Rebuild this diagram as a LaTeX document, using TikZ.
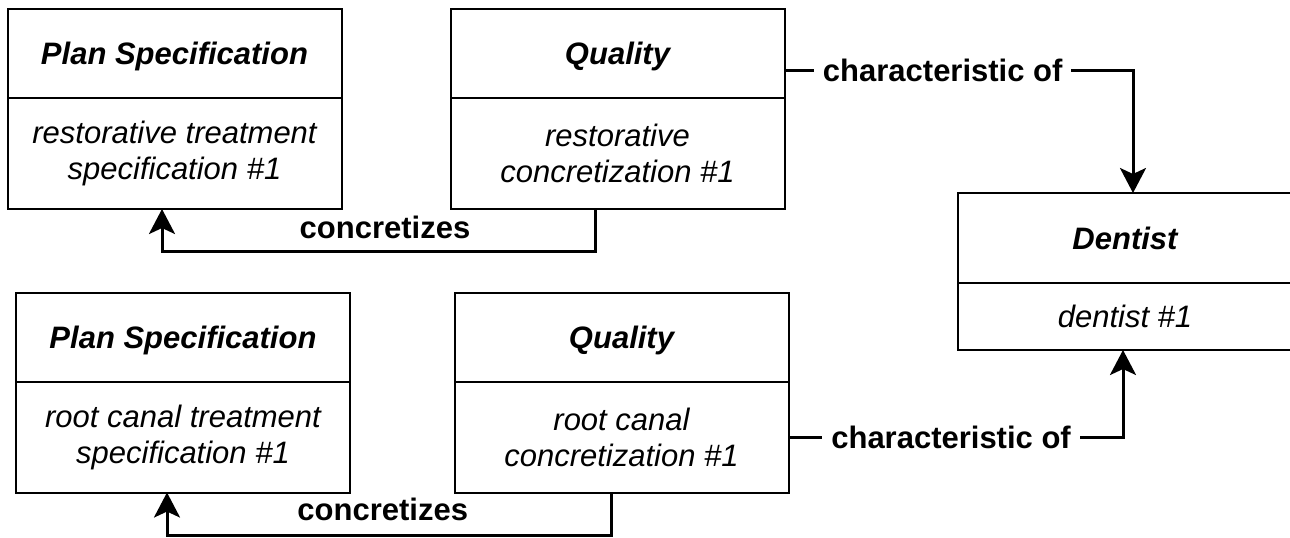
\documentclass[tikz,border=0pt]{standalone}
\usepackage{fontspec}
\setmainfont{Liberation Sans}
\usetikzlibrary{positioning, arrows.meta}

\begin{document}
\begin{tikzpicture}[x=0.5pt,y=-0.5pt,line width=1pt,node distance=0pt,]
	\tikzstyle{head}=[draw,rectangle,outer sep=0pt,inner sep=0pt,text depth=0pt,minimum width=167pt,minimum height=44.5pt,font=\fontsize{15.5}{18}\selectfont\bfseries\itshape]
	\tikzstyle{body}=[draw,rectangle,outer sep=0pt,inner sep=0pt,minimum width=167pt,minimum height=55.5pt,align=center,font=\fontsize{15.5}{18}\selectfont\itshape]
	\tikzstyle{rel}=[line width=1.5pt,-{Stealth[length=12.5pt,width=13pt,inset=3pt]}]
	\tikzstyle{lbl}=[font=\fontsize{15.5}{18}\selectfont\bfseries,inner sep=0pt]
	
	\useasboundingbox (0,0) rectangle (1290,537);
	
	\node[head] (PS1) at (174.5,53.5) {Plan Specification};
	\node[body] (PS1b) [below=of PS1] {restorative treatment\\specification \#1};
	\node[head] (Q1) at (617.5,53.5) {Quality};
	\node[body] (Q1b) [below=of Q1] {restorative\\concretization \#1};
	\node[head] (PS2) at (183,337) {Plan Specification};
	\node[body] (PS2b) [below=of PS2] {root canal treatment\\specification \#1};
	\node[head] (Q2) at (621.5,337) {Quality};
	\node[body] (Q2b) [below=of Q2] {root canal\\concretization \#1};
	\node[head, minimum height=45pt] (DEN) at (1125,238) {Dentist};
	\node[body, minimum height=33.5pt] (DENb) [below=of DEN] {dentist \#1};
	
	\draw[rel] ([xshift=-11.25pt]Q1b.south) -- ++(0,-21pt)
		-| node[lbl,pos=0.2425,above=5.5pt] {concretizes} ([xshift=-6.25pt]PS1b.south);
	\draw[rel] ([xshift=-5.25pt]Q2b.south) -- ++(0,-21.5pt)
		-| node[lbl,pos=0.257,above=6.5pt] {concretizes} ([xshift=-8pt]PS2b.south);
	\draw[rel] ([yshift=-8.25pt]Q1.east)
		-| node[lbl,fill=white,inner xsep=4.5pt,pos=0.227] {characteristic of} ([xshift=4pt]DEN.north);
	\draw[rel] (Q2b.east)
		-| node[lbl,fill=white,inner xsep=4.5pt,pos=0.243] {characteristic of} ([xshift=-1pt]DENb.south);
\end{tikzpicture}
\end{document}
